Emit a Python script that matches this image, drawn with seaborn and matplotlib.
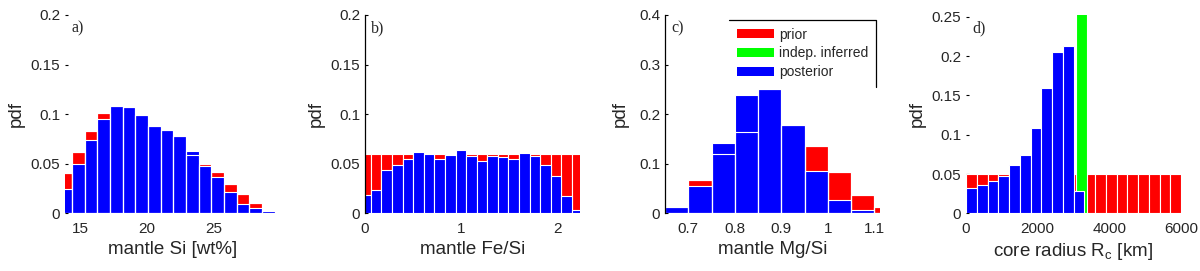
import numpy as np
import pandas as pd
import matplotlib
matplotlib.use('Agg')
import matplotlib.pyplot as plt
import seaborn as sns
from matplotlib.patches import Patch

# ---- data (pdf per bin) ----
# a) mantle Si [wt%]
si_edges = [13.45, 14.40, 15.35, 16.30, 17.25, 18.20, 19.15, 20.10, 21.05, 22.00,
            22.95, 23.90, 24.85, 25.80, 26.75, 27.70, 28.65, 29.60]
si_prior = [0.041, 0.062, 0.083, 0.101, 0.108, 0.107, 0.099, 0.088, 0.084, 0.078,
            0.059, 0.050, 0.042, 0.030, 0.019, 0.010, 0.0035]
si_post = [0.025, 0.050, 0.074, 0.095, 0.108, 0.107, 0.099, 0.088, 0.084, 0.078,
           0.063, 0.048, 0.037, 0.021, 0.009, 0.005, 0.002]

# b) mantle Fe/Si
fesi_edges = [-0.048, 0.062, 0.171, 0.281, 0.391, 0.500, 0.610, 0.720, 0.830, 0.939,
              1.049, 1.159, 1.268, 1.378, 1.488, 1.598, 1.707, 1.817, 1.927, 2.036,
              2.146, 2.256]
fesi_prior = [0.06, 0.06, 0.06, 0.06, 0.06, 0.06, 0.06, 0.06, 0.06, 0.06, 0.06,
              0.06, 0.06, 0.06, 0.06, 0.06, 0.06, 0.06, 0.06, 0.06, 0.06]
fesi_post = [0.0185, 0.024, 0.044, 0.0485, 0.055, 0.0615, 0.0595, 0.055, 0.0585, 0.0635,
             0.058, 0.053, 0.058, 0.057, 0.055, 0.061, 0.058, 0.049, 0.038, 0.0175, 0.003]

# c) mantle Mg/Si
mgsi_edges = [0.65, 0.70, 0.75, 0.80, 0.85, 0.90, 0.95, 1.00, 1.05, 1.10, 1.15]
mgsi_prior = [0.0137, 0.068, 0.120, 0.164, 0.2515, 0.179, 0.135, 0.084, 0.037, 0.013]
mgsi_post = [0.0137, 0.056, 0.141, 0.239, 0.2515, 0.179, 0.086, 0.026, 0.007, 0.0]

# d) core radius [km]
rc_edges = [0, 300, 600, 900, 1200, 1500, 1800, 2100, 2400, 2700, 3000,
            3300, 3600, 3900, 4200, 4500, 4800, 5100, 5400, 5700, 6000]
rc_prior = [0.05, 0.05, 0.05, 0.05, 0.05, 0.05, 0.05, 0.05, 0.05, 0.05,
            0.05, 0.05, 0.05, 0.05, 0.05, 0.05, 0.05, 0.05, 0.05, 0.05]
rc_post_edges = [0, 300, 600, 900, 1200, 1500, 1800, 2100, 2400, 2700, 3000, 3290]
rc_post = [0.032, 0.0355, 0.0406, 0.047, 0.061, 0.0746, 0.109, 0.160, 0.206, 0.2124, 0.028]
rc_indep_edges = [3080, 3370]
rc_indep = [0.2545]

RED, GREEN, BLUE = '#ff0000', '#00ff00', '#0000ff'

sns.set_style('white')
plt.rcParams['font.family'] = ['Liberation Sans', 'DejaVu Sans']
plt.rcParams['mathtext.default'] = 'regular'


def hist(ax, edges, heights, **kw):
    edges = [float(e) for e in edges]
    df = pd.DataFrame({
        'x': [(a + b) / 2 for a, b in zip(edges[:-1], edges[1:])],
        'w': heights,
    })
    sns.histplot(data=df, x='x', weights='w', bins=edges, stat='count', ax=ax,
                 alpha=1, **kw)


panels = [
    dict(tag='a)', xlabel='mantle Si [wt%]', xlim=(13.87, 30.0), ylim=(0, 0.2),
         xticks=[15, 20, 25], yticks=[0, 0.05, 0.1, 0.15, 0.2],
         prior=(si_edges, si_prior), post=(si_edges, si_post), indep=None,
         outline=True, spine=False, lpad=4),
    dict(tag='b)', xlabel='mantle Fe/Si', xlim=(0, 2.23), ylim=(0, 0.2),
         xticks=[0, 1, 2], yticks=[0, 0.05, 0.1, 0.15, 0.2],
         prior=(fesi_edges, fesi_prior), post=(fesi_edges, fesi_post), indep=None,
         outline=False, spine=True, lpad=4),
    dict(tag='c)', xlabel='mantle Mg/Si', xlim=(0.65, 1.112), ylim=(0, 0.4),
         xticks=[0.7, 0.8, 0.9, 1.0, 1.1], yticks=[0, 0.1, 0.2, 0.3, 0.4],
         prior=(mgsi_edges, mgsi_prior), post=(mgsi_edges, mgsi_post), indep=None,
         outline=True, spine=True, lpad=7.5),
    dict(tag='d)', xlabel='core radius R$_c$ [km]', xlim=(0, 6000), ylim=(0, 0.2525),
         xticks=[0, 2000, 4000, 6000], yticks=[0, 0.05, 0.1, 0.15, 0.2, 0.25],
         prior=(rc_edges, rc_prior), post=(rc_post_edges, rc_post),
         indep=(rc_indep_edges, rc_indep), outline=False, spine=False, lpad=4),
]

fig = plt.figure(figsize=(12, 2.71), dpi=100)
lefts = [65, 365, 665, 966]
axes = []
for left, p in zip(lefts, panels):
    ax = fig.add_axes([left / 1200, (271 - 213.3) / 271, 215 / 1200, 198.3 / 271])
    axes.append(ax)
    hist(ax, *p['prior'], color=RED, edgecolor='white', linewidth=0.8)
    if p['indep'] is not None:
        hist(ax, *p['indep'], color=GREEN, edgecolor='white', linewidth=0.8)
    hist(ax, *p['post'], color=BLUE, edgecolor='white', linewidth=0.8)
    if p['outline']:
        hist(ax, *p['prior'], fill=False, color='white', linewidth=0.8)

    ax.set_xlim(*p['xlim'])
    ax.set_ylim(*p['ylim'])
    ax.set_xticks(p['xticks'])
    ax.set_xticklabels([f'{v:g}' for v in p['xticks']])
    ax.set_yticks(p['yticks'])
    ax.set_yticklabels([f'{v:g}' for v in p['yticks']])
    ax.tick_params(axis='x', length=0, pad=6, labelsize=11)
    ax.tick_params(axis='y', left=True, direction='in', length=2.5, width=0.8,
                   color='black', pad=3.5, labelsize=11)
    for s in ['top', 'right', 'bottom']:
        ax.spines[s].set_visible(False)
    ax.spines['left'].set_visible(p['spine'])
    ax.spines['left'].set_color('black')
    ax.spines['left'].set_linewidth(0.9)
    ax.set_xlabel(p['xlabel'], fontsize=13.5, labelpad=4)
    ax.set_ylabel('pdf', fontsize=13.5, labelpad=p['lpad'])
    ax.text(0.028, 0.975, p['tag'], transform=ax.transAxes, ha='left', va='top',
            fontsize=11.5, family=['Liberation Serif', 'DejaVu Serif'])

# legend in panel c (only its top and right frame edges show in the original)
axc = axes[2]
handles = [Patch(facecolor=RED, edgecolor='none'),
           Patch(facecolor=GREEN, edgecolor='none'),
           Patch(facecolor=BLUE, edgecolor='none')]
leg = axc.legend(handles, ['prior', 'indep. inferred', 'posterior'],
                 loc='upper right', bbox_to_anchor=(0.981, 0.975), borderaxespad=0,
                 frameon=False, fontsize=10, handlelength=2.7, handleheight=0.65,
                 handletextpad=0.36, labelspacing=0.35, borderpad=0.55)
fig.canvas.draw()
bb = leg.get_window_extent().transformed(axc.transAxes.inverted())
axc.plot([bb.x0, bb.x1, bb.x1], [bb.y1, bb.y1, bb.y0], color='black', lw=0.9,
         transform=axc.transAxes, clip_on=False)

fig.savefig('out.png', dpi=100)
